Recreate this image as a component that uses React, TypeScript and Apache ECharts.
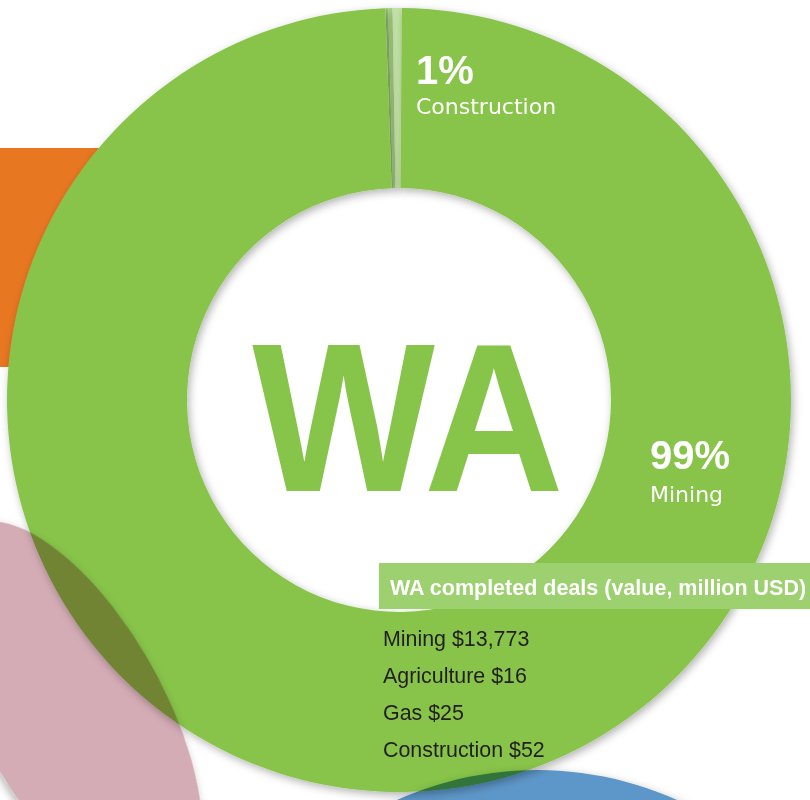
import React, { useEffect, useRef } from "react";
import * as echarts from "echarts";

const categories = ["Mining", "Agriculture", "Gas", "Construction"];
const values = [13773, 16, 25, 52];
const pieOrder = ["Agriculture", "Gas", "Construction", "Mining"];
const ringPercents = ["1%", "99%"];
const ringNames = ["Construction", "Mining"];
const centerLabel = "WA";
const titleText = "WA completed deals (value, million USD)";

const GREEN = "#87c44a";
const PINK = "#d4acb5";
const BLUE = "#5d97c9";
const sliceColors: Record<string, string> = {
  Mining: GREEN,
  Agriculture: "#9dce74",
  Gas: "#a9d585",
  Construction: "#c3e2a6",
};

export default function App() {
  const ref = useRef<HTMLDivElement>(null);
  useEffect(() => {
    document.body.style.margin = "0";
    const chart = echarts.init(ref.current!, undefined, { renderer: "svg" });
    const valueOf: Record<string, number> = {};
    categories.forEach((c, i) => (valueOf[c] = values[i]));
    const shadow = {
      shadowBlur: 8,
      shadowColor: "rgba(0,0,0,0.3)",
      shadowOffsetX: 2,
      shadowOffsetY: 3,
    };
    const ringLabelPos = [
      { x: 416, yP: 70, yN: 106 },
      { x: 650, yP: 455, yN: 494 },
    ];
    const ringTexts: any[] = [];
    ringPercents.forEach((p, i) => {
      ringTexts.push({
        type: "text",
        z: 10,
        x: ringLabelPos[i].x,
        y: ringLabelPos[i].yP,
        style: {
          text: p,
          fill: "#fff",
          font: 'bold 40px "Liberation Sans", Arial, sans-serif',
          verticalAlign: "middle",
          align: "left",
        },
      });
      ringTexts.push({
        type: "text",
        z: 10,
        x: ringLabelPos[i].x,
        y: ringLabelPos[i].yN,
        style: {
          text: ringNames[i],
          fill: "#fff",
          font: '22px "DejaVu Sans", sans-serif',
          verticalAlign: "middle",
          align: "left",
        },
      });
    });
    chart.setOption({
      animation: false,
      backgroundColor: "#ffffff",
      legend: {
        orient: "vertical",
        left: 373,
        top: 623,
        icon: "none",
        itemWidth: 0,
        itemHeight: 14,
        itemGap: 16,
        selectedMode: false,
        data: categories,
        formatter: (name: string) =>
          `${name} $${valueOf[name].toLocaleString("en-US")}`,
        textStyle: {
          color: "#231f20",
          fontSize: 21.4,
          fontFamily: '"Liberation Sans", Arial, sans-serif',
        },
      },
      series: [
        {
          type: "pie",
          z: 2,
          center: [399, 400],
          radius: [212, 392],
          startAngle: 92,
          clockwise: true,
          silent: true,
          label: { show: false },
          labelLine: { show: false },
          emphasis: { disabled: true },
          itemStyle: { borderWidth: 0, ...shadow },
          data: pieOrder.map((n) => ({
            name: n,
            value: valueOf[n],
            itemStyle: { color: sliceColors[n] },
          })),
        },
      ],
      graphic: {
        elements: [
          {
            type: "rect",
            z: -10,
            shape: { x: 0, y: 148, width: 100, height: 219 },
            style: { fill: "#e87722" },
          },
          {
            type: "ellipse",
            z: 50,
            x: 72,
            y: 712,
            rotation: (-61 * Math.PI) / 180,
            shape: { cx: 0, cy: 0, rx: 212, ry: 92 },
            style: { fill: PINK, ...shadow },
          },
          {
            type: "circle",
            z: 50,
            shape: { cx: 537, cy: 1112, r: 342 },
            style: { fill: BLUE, ...shadow },
          },
          {
            type: "text",
            z: 6,
            x: 408,
            y: 418,
            scaleX: 0.917,
            style: {
              text: centerLabel,
              fill: GREEN,
              font: 'bold 211px "Liberation Sans", Arial, sans-serif',
              align: "center",
              verticalAlign: "middle",
            },
          },
          {
            type: "rect",
            z: 60,
            shape: { x: 379, y: 563, width: 431, height: 46 },
            style: { fill: "#9dd06f" },
          },
          {
            type: "text",
            z: 61,
            x: 390,
            y: 588,
            style: {
              text: titleText,
              fill: "#fff",
              font: 'bold 21.5px "Liberation Sans", Arial, sans-serif',
              align: "left",
              verticalAlign: "middle",
            },
          },
          ...ringTexts,
        ],
      },
    });
    // multiply blend for the overlapping decorative discs
    const targets = [PINK, BLUE];
    const els = ref.current!.querySelectorAll("[fill]");
    els.forEach((el) => {
      const f = (el.getAttribute("fill") || "").toLowerCase();
      if (targets.includes(f)) {
        (el as SVGElement).style.mixBlendMode = "multiply";
      }
    });
    return () => chart.dispose();
  }, []);
  return <div ref={ref} style={{ width: 810, height: 800 }} />;
}
